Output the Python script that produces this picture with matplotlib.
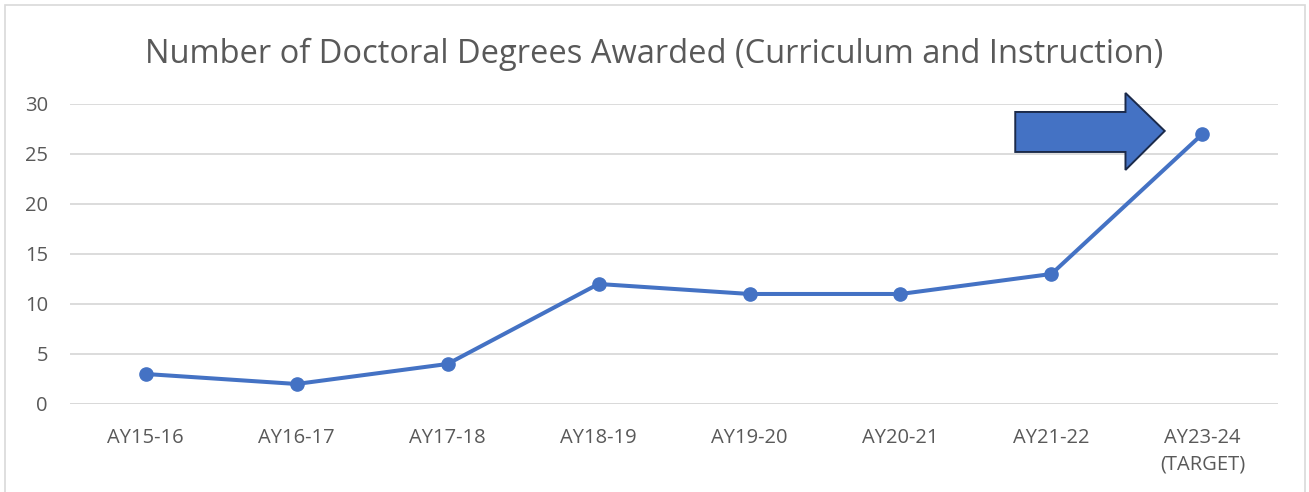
import matplotlib
matplotlib.use('Agg')
import matplotlib.pyplot as plt
from matplotlib.patches import Polygon, Rectangle

years = ['AY15-16', 'AY16-17', 'AY17-18', 'AY18-19', 'AY19-20',
         'AY20-21', 'AY21-22', 'AY23-24\n(TARGET)']
degrees = [3, 2, 4, 12, 11, 11, 13, 27]

blue = '#4472C4'
grey_txt = '#595959'

plt.rcParams['font.family'] = ['Open Sans', 'DejaVu Sans']

fig = plt.figure(figsize=(13.09, 4.92), dpi=100)
ax = fig.add_axes([0.0535, 0.1789, 0.9228, 0.6098])

x = list(range(len(years)))
ax.plot(x, degrees, color=blue, lw=2.9, marker='o', ms=9.5, zorder=3,
        solid_capstyle='round')

ax.set_xlim(-0.5, len(years) - 0.5)
ax.set_ylim(0, 30)
ax.set_yticks(range(0, 31, 5))
ax.set_xticks(x)
ax.set_xticklabels(years, fontsize=14.5, color=grey_txt, linespacing=1.45)
ax.tick_params(axis='y', labelsize=14.5, colors=grey_txt, length=0, pad=16)
ax.tick_params(axis='x', length=0, pad=17)
ax.grid(axis='y', color='#D9D9D9', lw=1.3)
ax.set_axisbelow(True)
for s in ax.spines.values():
    s.set_visible(False)
ax.axhline(0, color='#D9D9D9', lw=1.3, zorder=1)

# block arrow pointing at the target
arrow = Polygon([(5.76, 29.2), (6.49, 29.2), (6.49, 31.1), (6.75, 27.3),
                 (6.49, 23.4), (6.49, 25.2), (5.76, 25.2)],
                closed=True, facecolor=blue, edgecolor='#1B2A4A', lw=1.4,
                clip_on=False, zorder=4, joinstyle='miter')
ax.add_patch(arrow)

fig.text(0.5, 0.89, 'Number of Doctoral Degrees Awarded (Curriculum and Instruction)',
         ha='center', va='center', fontsize=23.5, color=grey_txt)

fig.patches.append(Rectangle((0.004, -0.05), 0.993, 1.04, transform=fig.transFigure,
                             fill=False, edgecolor='#D9D9D9', lw=1.2))

fig.savefig('out.png', dpi=100)
